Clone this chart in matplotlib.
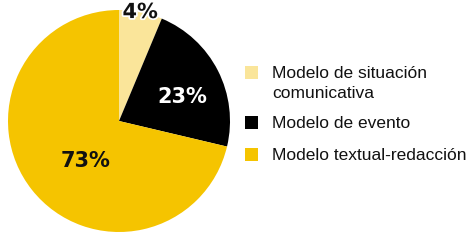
import matplotlib
matplotlib.use("Agg")
from matplotlib import pyplot as plt
from matplotlib import patheffects as pe
from matplotlib.patches import Rectangle
import numpy as np

# Data #
categories = ["Modelo de situación\ncomunicativa", "Modelo de evento", "Modelo textual-redacción"]
slice_sizes = [6.3, 22.4, 71.3]          # slice sizes as drawn in the picture
pct_labels = ["4%", "23%", "73%"]
colors = ["#FAE59A", "#000000", "#F5C400"]
label_colors = ["#111111", "white", "#111111"]

# label placement (radius, angle in degrees) #
label_pos = [(1.0, 79), (0.61, 21), (0.47, 230)]

# legend rows, pixel centre from top of the figure #
legend_rows = [72, 122, 154]

W, H = 474, 241
fig = plt.figure(figsize=(W/100, H/100), dpi=100)
ax = fig.add_axes([8/W, 9/H, 222/W, 222/H])

wedges, _ = ax.pie(slice_sizes, colors=colors, startangle=90, counterclock=False,
                   radius=1, wedgeprops=dict(linewidth=0))
ax.set_xlim(-1, 1)
ax.set_ylim(-1, 1)
ax.set_aspect("equal")

for lab, col, (r, ang) in zip(pct_labels, label_colors, label_pos):
    t = ax.text(r*np.cos(np.radians(ang)), r*np.sin(np.radians(ang)), lab,
                ha="center", va="center", fontsize=15, fontweight="bold",
                color=col, family="DejaVu Sans")
    if lab == "4%":
        t.set_path_effects([pe.withStroke(linewidth=2.5, foreground="white")])

# Legend (first text line aligned with the square) #
sq = 13
for cat, col, yc in zip(categories, colors, legend_rows):
    fig.patches.append(Rectangle((245/W, 1 - (yc + sq/2)/H), sq/W, sq/H,
                                 transform=fig.transFigure, facecolor=col, edgecolor="none"))
    fig.text(272/W, 1 - (yc - 6)/H, cat, ha="left", va="top",
             family="Liberation Sans", fontsize=12.5, linespacing=1.45, color="#111111")

fig.savefig("out.png", dpi=100)
